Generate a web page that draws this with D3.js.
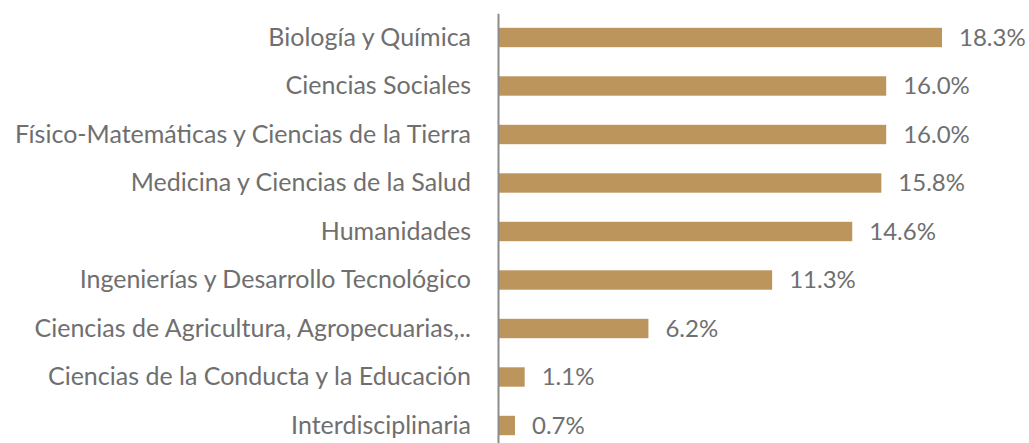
<!DOCTYPE html>
<html>
<head>
<meta charset="utf-8">
<script src="https://cdn.jsdelivr.net/npm/d3@7"></script>
<style>
body{margin:0;background:#fff;}
text{font-family:Lato,"Noto Sans",sans-serif;fill:#6f6f6f;}
</style>
</head>
<body>
<div id="chart-area"></div>
<script>
let categories=["Biología y Química","Ciencias Sociales","Físico-Matemáticas y Ciencias de la Tierra","Medicina y Ciencias de la Salud","Humanidades","Ingenierías y Desarrollo Tecnológico","Ciencias de Agricultura, Agropecuarias,..","Ciencias de la Conducta y la Educación","Interdisciplinaria"];
let values=[18.3,16.0,16.0,15.8,14.6,11.3,6.2,1.1,0.7];
let valueLabels=["18.3%","16.0%","16.0%","15.8%","14.6%","11.3%","6.2%","1.1%","0.7%"];

let width=1029, height=443;
let x0=498;

let svg=d3.select("#chart-area").append('svg')
	.attr('width',width)
	.attr('height',height);

//---------SCALES--------------
let x=d3.scaleLinear()
	.domain([0,18.3])
	.range([x0,942]);

let y=d3.scaleBand()
	.domain(categories)
	.range([13.25,449.75])
	.paddingInner(0.6)
	.paddingOuter(0.3);

//-------BARS------------------
svg.selectAll('rect.bar').data(values)
	.enter().append('rect')
		.attr('class','bar')
		.attr('x',x(0))
		.attr('y',(d,i)=>y(categories[i]))
		.attr('width',d=>x(d)-x(0))
		.attr('height',y.bandwidth())
		.attr('fill','#bc955c');

//-------AXIS------------------
let yAxis=d3.axisLeft(y).tickSize(0).tickPadding(27);
let yAxisGroup=svg.append('g')
	.attr("transform","translate("+x0+",0)")
	.call(yAxis);
yAxisGroup.select('.domain').attr('stroke','#8c8c8c').attr('stroke-width',2);
yAxisGroup.selectAll('text')
	.attr('font-size','25px')
	.attr('fill','#6f6f6f')
	.style('font-family','Lato, "Noto Sans", sans-serif');

//-------VALUE LABELS----------
svg.selectAll('text.val').data(values)
	.enter().append('text')
		.attr('class','val')
		.attr('x',d=>x(d)+17)
		.attr('y',(d,i)=>y(categories[i])+y.bandwidth()/2)
		.attr('dy','0.35em')
		.attr('font-size','24px')
		.text((d,i)=>valueLabels[i]);
</script>
</body>
</html>
